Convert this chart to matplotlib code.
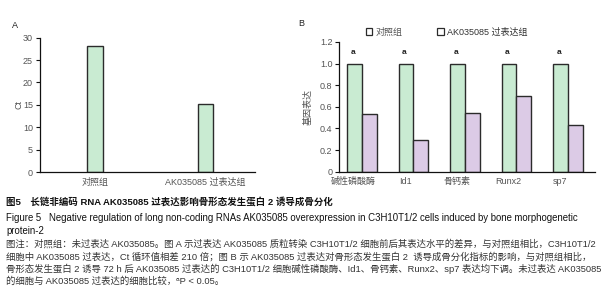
import matplotlib
matplotlib.use("Agg")
import matplotlib.pyplot as plt
from matplotlib.patches import Patch

plt.rcParams['font.family'] = ['Liberation Sans', 'Noto Sans CJK SC', 'DejaVu Sans']

# panel A data
groups_a = ["对照组", "AK035085 过表达组"]
ct_values = [28.2, 15.3]

# panel B data
genes = ["碱性磷酸酶", "Id1", "骨钙素", "Runx2", "sp7"]
control = [1.0, 1.0, 1.0, 1.0, 1.0]
overexp = [0.53, 0.29, 0.54, 0.70, 0.43]
sig = ["a", "a", "a", "a", "a"]
series_names = ["对照组", "AK035085 过表达组"]

green = "#c9ebd2"
purple = "#dccbe6"
edge = "#2b2b2b"
gray_txt = "#555555"

caption_title = "图5　长链非编码 RNA AK035085 过表达影响骨形态发生蛋白 2 诱导成骨分化"
caption_en = ["Figure 5   Negative regulation of long non-coding RNAs AK035085 overexpression in C3H10T1/2 cells induced by bone morphogenetic",
              "protein-2"]
caption_note = [
    "图注：对照组：未过表达 AK035085。图 A 示过表达 AK035085 质粒转染 C3H10T1/2 细胞前后其表达水平的差异，与对照组相比，C3H10T1/2",
    "细胞中 AK035085 过表达，Ct 循环值相差 210 倍；图 B 示 AK035085 过表达对骨形态发生蛋白 2  诱导成骨分化指标的影响，与对照组相比，",
    "骨形态发生蛋白 2 诱导 72 h 后 AK035085 过表达的 C3H10T1/2 细胞碱性磷酸酶、Id1、骨钙素、Runx2、sp7 表达均下调。未过表达 AK035085",
    "的细胞与 AK035085 过表达的细胞比较，ᵃP < 0.05。",
]

fig = plt.figure(figsize=(6.03, 3.0), dpi=100)
W, H = 603.0, 300.0


def style_axes(ax):
    for s in ["top", "right"]:
        ax.spines[s].set_visible(False)
    for s in ["left", "bottom"]:
        ax.spines[s].set_color("#111111")
        ax.spines[s].set_linewidth(0.9)
    ax.tick_params(axis="y", length=3, width=0.8, labelsize=6.5, colors="#111111", labelcolor=gray_txt, pad=2)
    ax.tick_params(axis="x", length=0, labelsize=6.5, labelcolor=gray_txt, pad=4)


# ---- panel A
axA = fig.add_axes([40 / W, 1 - 172 / H, 215 / W, 134.3 / H])
xa = [0, 1]
axA.bar(xa, ct_values, width=0.14, color=green, edgecolor=edge, linewidth=1.0)
axA.set_xlim(-0.5, 1.45)
axA.set_ylim(0, 30)
axA.set_yticks(range(0, 31, 5))
axA.set_xticks(xa)
axA.set_xticklabels(groups_a)
axA.set_ylabel("Ct", fontsize=6.5, color=gray_txt)
axA.yaxis.set_label_coords(-0.075, 0.5)
style_axes(axA)
fig.text(12 / W, 1 - 25 / H, "A", fontsize=6.5, va="center", color="#222222")

# ---- panel B
axB = fig.add_axes([339.3 / W, 1 - 171.7 / H, 255.7 / W, 129.7 / H])
xb = list(range(len(genes)))
w = 0.285
axB.bar([x - w / 2 for x in xb], control, width=w, color=green, edgecolor=edge, linewidth=1.0)
axB.bar([x + w / 2 for x in xb], overexp, width=w, color=purple, edgecolor=edge, linewidth=1.0)
for x, s in zip(xb, sig):
    axB.text(x - w / 2 - 0.03, 1.105, s, ha="center", va="center", fontsize=6, fontweight="bold", color="#222222")
axB.set_xlim(-0.44, 4.525)
axB.set_ylim(0, 1.2)
axB.set_yticks([0, 0.2, 0.4, 0.6, 0.8, 1.0, 1.2])
axB.set_yticklabels(["0", "0.2", "0.4", "0.6", "0.8", "1.0", "1.2"])
axB.set_xticks([x - 0.16 for x in xb])
axB.set_xticklabels(genes)
axB.set_ylabel("基因表达", fontsize=6.5, color=gray_txt)
axB.yaxis.set_label_coords(-0.105, 0.5)
style_axes(axB)
fig.text(298 / W, 1 - 24 / H, "B", fontsize=6.5, va="center", color="#222222")

handles = [Patch(facecolor="white", edgecolor=edge, linewidth=0.9) for _ in series_names]
leg = fig.legend(handles, series_names, loc="center left", bbox_to_anchor=(366 / W, 1 - 32 / H),
                 ncol=2, frameon=False, fontsize=6.5, handlelength=0.7, handleheight=0.7,
                 handletextpad=0.4, columnspacing=3.8, borderpad=0, borderaxespad=0)
for t in leg.get_texts():
    t.set_color(gray_txt)
leg.get_texts()[1].set_color("#333333")

# ---- caption
fig.text(6 / W, 1 - 202 / H, caption_title, fontsize=6.8, fontweight="bold", va="center", color="#111111")
fig.text(6 / W, 1 - 218 / H, caption_en[0], fontsize=6.95, va="center", color="#111111")
fig.text(6 / W, 1 - 231 / H, caption_en[1], fontsize=6.95, va="center", color="#111111")
for i, line in enumerate(caption_note):
    fig.text(6 / W, 1 - (244 + 12.4 * i) / H, line, fontsize=6.75, va="center", color="#333333")

fig.savefig("out.png", dpi=100, facecolor="white")
